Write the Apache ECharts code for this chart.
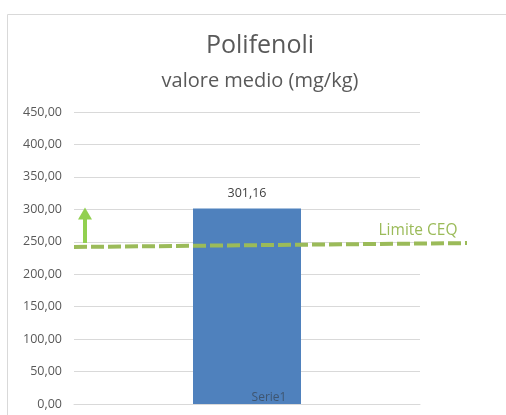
<!DOCTYPE html>
<html>
<head>
<meta charset="utf-8">
<script src="https://cdn.jsdelivr.net/npm/echarts@6/dist/echarts.min.js"></script>
<style>
    html, body {margin: 0; padding: 0; background: #fff;}
    #chart {width: 506px; height: 415px;}
</style>
</head>
<body>
<div id="chart"></div>
<script>
    var categories = ['Serie1'];
    var mediaValues = [301.16];
    var limitStart = 242;   // the dashed limit line is slightly tilted
    var limitEnd = 248;
    var arrowTop = 303;
    var yTicks = [0, 50, 100, 150, 200, 250, 300, 350, 400, 450];

    function fmt(v) {
        return v.toFixed(2).replace('.', ',');
    }

    var chart = echarts.init(document.getElementById('chart'));
    var font = '"Open Sans", Lato, sans-serif';
    var option = {
        animation: false,
        textStyle: {fontFamily: font},
        title: {
            text: 'Polifenoli',
            subtext: 'valore medio (mg/kg)',
            left: 255,
            textAlign: 'center',
            top: 28,
            itemGap: 13,
            textStyle: {fontFamily: font, fontWeight: 'normal', fontSize: 25, color: '#595959'},
            subtextStyle: {fontFamily: font, fontSize: 20, color: '#595959'}
        },
        grid: {left: 74, right: 86, top: 112, bottom: 11, containLabel: false},
        xAxis: {
            type: 'category',
            data: categories,
            z: 5,
            axisTick: {show: false},
            axisLine: {lineStyle: {color: '#d9d9d9', width: 1}},
            axisLabel: {
                inside: true,
                margin: 0,
                padding: [0, 0, 0, 44],
                fontSize: 12,
                color: 'rgba(50,50,50,0.55)',
                verticalAlign: 'bottom'
            }
        },
        yAxis: {
            type: 'value',
            min: yTicks[0],
            max: yTicks[yTicks.length - 1],
            interval: 50,
            axisLine: {show: false},
            axisTick: {show: false},
            splitLine: {lineStyle: {color: '#d9d9d9', width: 1}},
            axisLabel: {
                margin: 12,
                fontSize: 12.5,
                color: '#595959',
                formatter: function (v) { return fmt(v); }
            }
        },
        series: [
            {
                name: 'Serie1',
                type: 'bar',
                barWidth: 108,
                data: mediaValues,
                itemStyle: {color: '#4F81BD'},
                label: {
                    show: true,
                    position: 'top',
                    distance: 9,
                    fontSize: 12.5,
                    color: '#404040',
                    formatter: function (p) { return fmt(p.value); }
                }
            }
        ]
    };
    chart.setOption(option);

    // limit line, arrow and frame, placed with the chart's own scales
    var yL = chart.convertToPixel({yAxisIndex: 0}, limitStart);
    var yR = chart.convertToPixel({yAxisIndex: 0}, limitEnd);
    var yArrowTop = chart.convertToPixel({yAxisIndex: 0}, arrowTop);
    var arrowX = 85;

    chart.setOption({
        graphic: [
            {
                type: 'polyline',
                shape: {points: [[7.5, 415], [7.5, 14.5], [506, 14.5]]},
                style: {stroke: '#d9d9d9', lineWidth: 1, fill: null},
                silent: true
            },
            {
                type: 'line',
                shape: {x1: 74, y1: yL, x2: 467, y2: yR},
                style: {stroke: '#9BBB59', lineWidth: 4, lineDash: [13, 4]},
                z: 10
            },
            {
                type: 'text',
                x: 418,
                y: (yL + yR) / 2 - 14,
                style: {text: 'Limite CEQ', fill: '#9BBB59', font: '15.5px ' + font, align: 'center', verticalAlign: 'middle'},
                z: 10
            },
            {
                type: 'line',
                shape: {x1: arrowX, y1: yL - 4, x2: arrowX, y2: yArrowTop + 10},
                style: {stroke: '#92D050', lineWidth: 4},
                z: 10
            },
            {
                type: 'polygon',
                shape: {points: [[arrowX - 7, yArrowTop + 12], [arrowX + 7, yArrowTop + 12], [arrowX, yArrowTop]]},
                style: {fill: '#92D050'},
                z: 10
            }
        ]
    });
</script>
</body>
</html>
